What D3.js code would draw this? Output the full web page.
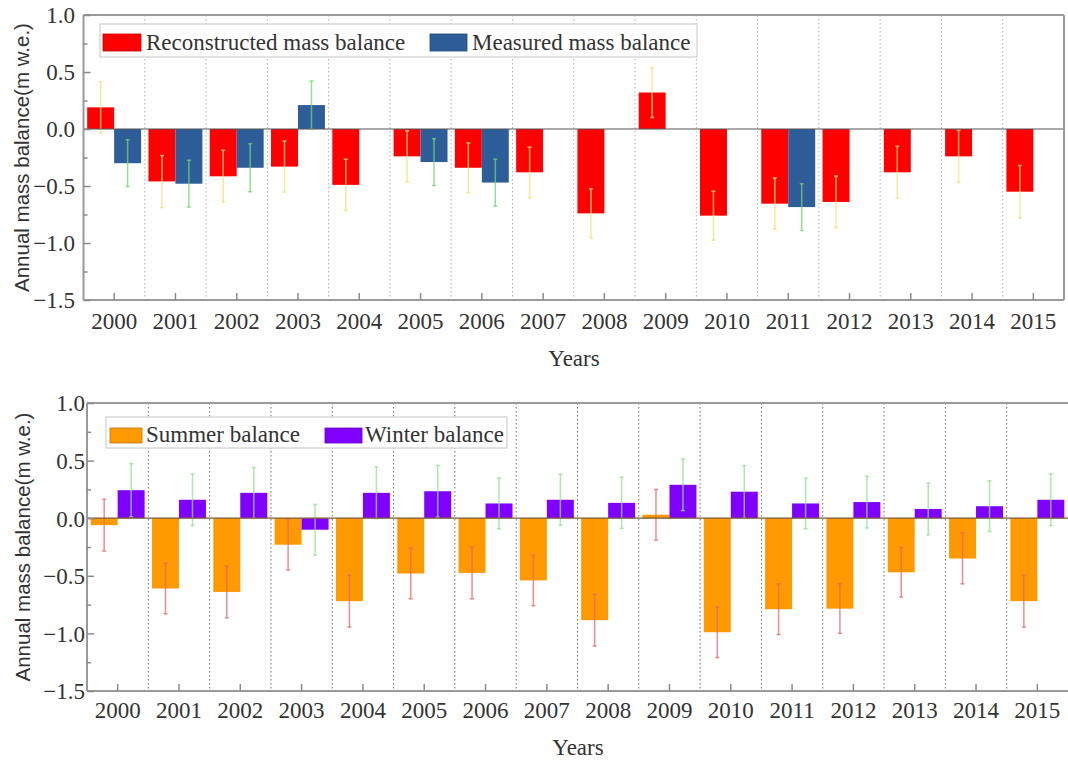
<!DOCTYPE html>
<html>
<head>
<meta charset="utf-8">
<script src="https://cdn.jsdelivr.net/npm/d3@7/dist/d3.min.js"></script>
<style>
  html, body { margin: 0; padding: 0; background: #fff; }
  svg { display: block; }
</style>
</head>
<body>
<svg id="chart" width="1068" height="762"></svg>
<script>
// Glacier mass balance, 2000-2015 (m w.e.)
const years = ["2000","2001","2002","2003","2004","2005","2006","2007",
               "2008","2009","2010","2011","2012","2013","2014","2015"];

// Annual balance: reconstructed vs. measured
const reconstructed    = [0.19, -0.46, -0.415, -0.33, -0.49, -0.24, -0.34, -0.38,
                          -0.74, 0.32, -0.76, -0.655, -0.64, -0.38, -0.24, -0.55];
const reconstructedErr = [0.225, 0.228, 0.228, 0.225, 0.225, 0.225, 0.22, 0.22,
                          0.215, 0.22, 0.215, 0.225, 0.228, 0.228, 0.228, 0.23];
const measured    = [-0.30, -0.48, -0.34, 0.21, null, -0.29, -0.47, null,
                     null, null, null, -0.685, null, null, null, null];
const measuredErr = [0.205, 0.205, 0.21, 0.21, null, 0.205, 0.205, null,
                     null, null, null, 0.205, null, null, null, null];

// Seasonal balance: summer vs. winter
const summer    = [-0.06, -0.61, -0.64, -0.23, -0.72, -0.48, -0.475, -0.54,
                   -0.885, 0.03, -0.99, -0.79, -0.785, -0.47, -0.35, -0.72];
const summerErr = [0.225, 0.22, 0.225, 0.22, 0.225, 0.22, 0.225, 0.22,
                   0.225, 0.22, 0.22, 0.22, 0.215, 0.215, 0.22, 0.225];
const winter    = [0.243, 0.16, 0.22, -0.10, 0.22, 0.234, 0.128, 0.16,
                   0.133, 0.29, 0.23, 0.128, 0.14, 0.08, 0.104, 0.16];
const winterErr = [0.23, 0.224, 0.22, 0.22, 0.225, 0.225, 0.22, 0.222,
                   0.222, 0.224, 0.227, 0.22, 0.225, 0.225, 0.22, 0.225];

const yTicks = [-1.5, -1.0, -0.5, 0.0, 0.5, 1.0];
const yMinorTicks = [-1.25, -0.75, -0.25, 0.25, 0.75];

const serif = "'Liberation Serif', 'Times New Roman', serif";
const sans  = "'Liberation Sans', Arial, sans-serif";
const svg = d3.select("#chart");

function drawPanel(p) {
  const g = svg.append("g");
  const x = d3.scaleBand().domain(years).range([p.left, p.right]).paddingInner(0).paddingOuter(0);
  const bw = x.bandwidth();
  const inner = d3.scaleBand().domain([0, 1]).range([0.06 * bw, 0.94 * bw]);
  const y = d3.scaleLinear().domain([-1.5, 1.0]).range([p.bottom, p.top]);

  // clip for marks
  const clipId = "clip" + p.id;
  svg.append("clipPath").attr("id", clipId)
    .append("rect").attr("x", p.left).attr("y", p.top)
    .attr("width", p.right - p.left).attr("height", p.bottom - p.top);

  // dotted year separators
  g.append("g").selectAll("line")
    .data(years.slice(1))
    .join("line")
    .attr("x1", d => x(d)).attr("x2", d => x(d))
    .attr("y1", p.top).attr("y2", p.bottom)
    .attr("stroke", p.gridColor).attr("stroke-width", 1)
    .attr("stroke-dasharray", "1.5,2.5");

  // bars
  const marks = g.append("g").attr("clip-path", `url(#${clipId})`);
  p.series.forEach((s, si) => {
    const rows = years.map((yr, i) => ({ yr, v: s.values[i], e: s.err[i] }))
                      .filter(d => d.v !== null);
    marks.append("g").selectAll("rect")
      .data(rows)
      .join("rect")
      .attr("x", d => x(d.yr) + inner(si))
      .attr("width", inner.bandwidth())
      .attr("y", d => y(Math.max(0, d.v)))
      .attr("height", d => Math.abs(y(d.v) - y(0)))
      .attr("fill", s.color);
  });

  // zero line
  g.append("line")
    .attr("x1", p.left).attr("x2", p.right)
    .attr("y1", y(0)).attr("y2", y(0))
    .attr("stroke", p.zeroColor).attr("stroke-width", 1.2);

  // error bars
  p.series.forEach((s, si) => {
    const rows = years.map((yr, i) => ({ yr, v: s.values[i], e: s.err[i] }))
                      .filter(d => d.v !== null);
    const eg = marks.append("g").attr("stroke", s.errColor)
      .attr("stroke-width", 1.5).attr("stroke-opacity", 0.75);
    const cx = d => x(d.yr) + inner(si) + inner.bandwidth() / 2;
    eg.selectAll("line.v").data(rows).join("line").attr("class", "v")
      .attr("x1", cx).attr("x2", cx)
      .attr("y1", d => y(d.v + d.e)).attr("y2", d => y(d.v - d.e));
    eg.selectAll("line.t").data(rows).join("line").attr("class", "t")
      .attr("x1", d => cx(d) - 2).attr("x2", d => cx(d) + 2)
      .attr("y1", d => y(d.v + d.e)).attr("y2", d => y(d.v + d.e));
    eg.selectAll("line.b").data(rows).join("line").attr("class", "b")
      .attr("x1", d => cx(d) - 2).attr("x2", d => cx(d) + 2)
      .attr("y1", d => y(d.v - d.e)).attr("y2", d => y(d.v - d.e));
  });

  // frame
  const frame = g.append("g").attr("stroke", "#9a9a9a").attr("stroke-width", 2).attr("fill", "none");
  frame.append("line").attr("x1", p.left).attr("x2", p.left).attr("y1", p.top).attr("y2", p.bottom);
  frame.append("line").attr("x1", p.left).attr("x2", p.right).attr("y1", p.bottom).attr("y2", p.bottom);
  frame.append("line").attr("x1", p.left).attr("x2", p.right).attr("y1", p.top).attr("y2", p.top);
  if (p.rightFrame) {
    frame.append("line").attr("x1", p.right).attr("x2", p.right).attr("y1", p.top).attr("y2", p.bottom);
  }

  // y axis (ticks pointing inward)
  const yAxis = d3.axisRight(y).tickValues(yTicks).tickSize(7).tickFormat(d3.format(".1f"));
  const ya = g.append("g").attr("transform", `translate(${p.left},0)`).call(yAxis);
  ya.select(".domain").remove();
  ya.selectAll(".tick line").attr("stroke", "#8a8a8a").attr("stroke-width", 1.5);
  ya.selectAll(".tick text")
    .attr("x", p.yLabelX - p.left).attr("text-anchor", "end").attr("dy", "0.34em")
    .attr("font-family", serif).attr("font-size", 23).attr("fill", "#333");
  const yMinor = d3.axisRight(y).tickValues(yMinorTicks).tickSize(4).tickFormat("");
  const ym = g.append("g").attr("transform", `translate(${p.left},0)`).call(yMinor);
  ym.select(".domain").remove();
  ym.selectAll(".tick line").attr("stroke", "#8a8a8a").attr("stroke-width", 1.5);

  // x axis (ticks pointing inward at band centres)
  const xAxis = d3.axisTop(x).tickSize(7).tickSizeOuter(0);
  const xa = g.append("g").attr("transform", `translate(0,${p.bottom})`).call(xAxis);
  xa.select(".domain").remove();
  xa.selectAll(".tick line").attr("stroke", "#8a8a8a").attr("stroke-width", 1.5);
  xa.selectAll(".tick text")
    .attr("y", p.xLabelBase - p.bottom).attr("dy", 0)
    .attr("font-family", serif).attr("font-size", 23).attr("fill", "#333");

  // axis titles
  g.append("text")
    .attr("transform", `translate(${p.yTitleX},${(p.top + p.bottom) / 2}) rotate(-90)`)
    .attr("text-anchor", "middle").attr("dy", "0.35em")
    .attr("font-family", sans).attr("font-size", 20.5).attr("fill", "#333")
    .text("Annual mass balance(m w.e.)");
  g.append("text")
    .attr("x", p.xTitleX).attr("y", p.xTitleBase)
    .attr("text-anchor", "middle")
    .attr("font-family", serif).attr("font-size", 23).attr("fill", "#333")
    .text("Years");

  // legend
  const L = p.legend;
  const lg = g.append("g");
  lg.append("rect")
    .attr("x", L.x).attr("y", L.y).attr("width", L.w).attr("height", L.h)
    .attr("fill", "#fff").attr("stroke", "#cfcfcf").attr("stroke-width", 1.2);
  p.series.forEach((s, si) => {
    const item = L.items[si];
    lg.append("rect")
      .attr("x", item.sx).attr("y", L.swY).attr("width", item.sw).attr("height", L.swH)
      .attr("fill", s.color).attr("stroke", d3.color(s.color).darker(0.8)).attr("stroke-width", 0.8);
    lg.append("text")
      .attr("x", item.tx).attr("y", L.base)
      .attr("font-family", serif).attr("font-size", 23).attr("fill", "#333")
      .text(s.name);
  });
}

drawPanel({
  id: "a", left: 83.5, right: 1064, top: 15, bottom: 300,
  rightFrame: true, gridColor: "#b0b0b0", zeroColor: "#555",
  yLabelX: 75, yTitleX: 22, xLabelBase: 329, xTitleX: 574, xTitleBase: 366,
  series: [
    { name: "Reconstructed mass balance", values: reconstructed, err: reconstructedErr,
      color: "#ff0000", errColor: "#f2e27a" },
    { name: "Measured mass balance", values: measured, err: measuredErr,
      color: "#2e5e9a", errColor: "#6fd66f" }
  ],
  legend: { x: 100, y: 24, w: 597, h: 33, swY: 34, swH: 17, base: 49.5,
            items: [ { sx: 103, sw: 38, tx: 146 }, { sx: 430, sw: 37, tx: 472 } ] }
});

drawPanel({
  id: "b", left: 87, right: 1068, top: 403, bottom: 691,
  rightFrame: false, gridColor: "#6e6e6e", zeroColor: "#7a5a30",
  yLabelX: 85, yTitleX: 23, xLabelBase: 718, xTitleX: 578, xTitleBase: 755,
  series: [
    { name: "Summer balance", values: summer, err: summerErr,
      color: "#ff9900", errColor: "#e06a6a" },
    { name: "Winter balance", values: winter, err: winterErr,
      color: "#8000ff", errColor: "#8fe08f" }
  ],
  legend: { x: 106, y: 417, w: 401, h: 31, swY: 428, swH: 15, base: 441.5,
            items: [ { sx: 110, sw: 32, tx: 146 }, { sx: 325, sw: 37, tx: 365 } ] }
});
</script>
</body>
</html>
